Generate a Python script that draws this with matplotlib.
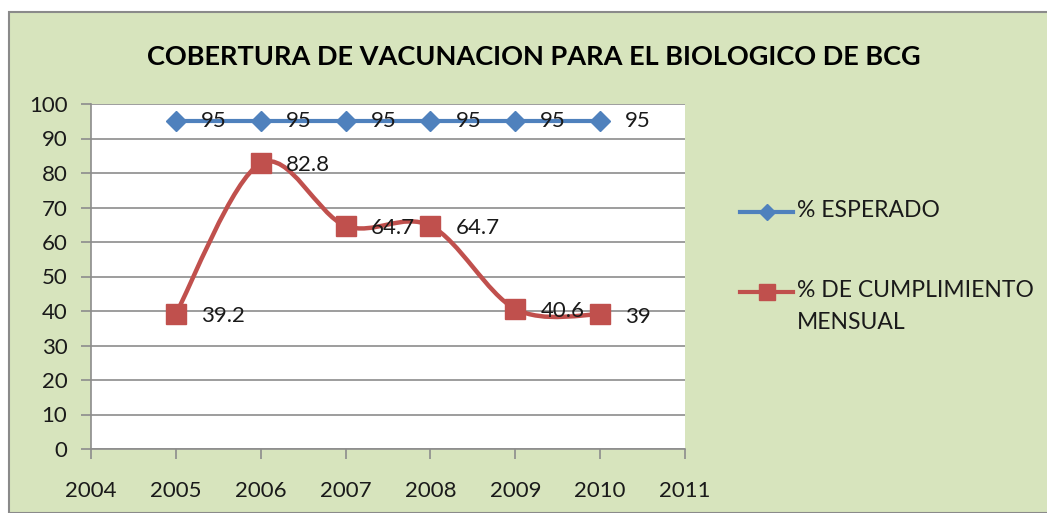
import matplotlib
matplotlib.use("Agg")
import matplotlib.pyplot as plt
from matplotlib.path import Path
from matplotlib.patches import PathPatch, Rectangle
from matplotlib.lines import Line2D
import numpy as np

plt.rcParams['font.family'] = ['Lato', 'DejaVu Sans']

title = "COBERTURA DE VACUNACION PARA EL BIOLOGICO DE BCG"
years = [2005, 2006, 2007, 2008, 2009, 2010]
esperado = [95, 95, 95, 95, 95, 95]
cumplimiento = [39.2, 82.8, 64.7, 64.7, 40.6, 39]
series_names = ["% ESPERADO", "% DE CUMPLIMIENTO\nMENSUAL"]
label_texts_esp = ["95", "95", "95", "95", "95", "95"]
label_texts_cum = ["39.2", "82.8", "64.7", "64.7", "40.6", "39"]
xticks = [2004, 2005, 2006, 2007, 2008, 2009, 2010, 2011]
yticks = [0, 10, 20, 30, 40, 50, 60, 70, 80, 90, 100]

BG = "#D7E4BD"
BLUE = "#4F81BD"
RED = "#C0504D"
GRID = "#8C8C8C"

fig = plt.figure(figsize=(10.47, 5.13), dpi=100)
fig.patch.set_facecolor("white")
W, H = 1047, 513
# chart area with gray border
fig.add_artist(Rectangle((9 / W, 0), 1.2, 1 - 12 / H, transform=fig.transFigure,
                         facecolor=BG, edgecolor="#8A8A8A", linewidth=1.5, zorder=0))

ax = fig.add_axes([91 / W, 1 - 449 / H, (685 - 91) / W, (449 - 104) / H])
ax.set_facecolor("white")
ax.set_xlim(2004, 2011)
ax.set_ylim(0, 100)
ax.set_xticks(xticks)
ax.set_yticks(yticks)
ax.grid(axis='y', color=GRID, linewidth=1.2)
ax.set_axisbelow(True)
for s in ['top', 'right']:
    ax.spines[s].set_visible(False)
for s in ['left', 'bottom']:
    ax.spines[s].set_color(GRID)
    ax.spines[s].set_linewidth(1.2)
ax.tick_params(axis='y', direction='out', length=7, width=1.2, color=GRID,
               pad=10, labelsize=16, labelcolor="#1a1a1a")
ax.tick_params(axis='x', direction='out', length=7, width=1.2, color=GRID,
               pad=16, labelsize=16, labelcolor="#1a1a1a")

# Expected line
ax.plot(years, esperado, color=BLUE, linewidth=3, marker='D', markersize=10,
        zorder=3, clip_on=False)

# Smoothed line (Excel-like Catmull-Rom Bezier)
pts = np.column_stack([years, cumplimiento]).astype(float)
n = len(pts)
verts = [tuple(pts[0])]
codes = [Path.MOVETO]
for i in range(n - 1):
    p0 = pts[i - 1] if i > 0 else pts[i]
    p1 = pts[i]
    p2 = pts[i + 1]
    p3 = pts[i + 2] if i + 2 < n else pts[i + 1]
    c1 = p1 + (p2 - p0) / 6.0
    c2 = p2 - (p3 - p1) / 6.0
    verts += [tuple(c1), tuple(c2), tuple(p2)]
    codes += [Path.CURVE4] * 3
ax.add_patch(PathPatch(Path(verts, codes), facecolor='none', edgecolor=RED,
                       linewidth=3.2, zorder=3, capstyle='round'))
ax.plot(years, cumplimiento, linestyle='none', marker='s', markersize=14,
        color=RED, zorder=4, clip_on=False)

for x, y, t in zip(years, esperado, label_texts_esp):
    ax.annotate(t, (x, y), xytext=(18, 0), textcoords='offset points',
                ha='left', va='center', fontsize=16, color="#1a1a1a", zorder=5)
for x, y, t in zip(years, cumplimiento, label_texts_cum):
    ax.annotate(t, (x, y), xytext=(18, -1.5), textcoords='offset points',
                ha='left', va='center', fontsize=16, color="#1a1a1a", zorder=5)

fig.text(534 / W, 1 - 57 / H, title, ha='center', va='center', fontsize=19.5,
         fontweight='bold', color="black")

# Legend (manual)
def legend_entry(y, color, marker, ms, label):
    fig.add_artist(Line2D([740 / W, 793 / W], [1 - y / H, 1 - y / H],
                          transform=fig.transFigure, color=color, linewidth=3))
    fig.add_artist(Line2D([766.5 / W], [1 - y / H], transform=fig.transFigure,
                          color=color, marker=marker, markersize=ms, linestyle='none'))
    fig.text(797 / W, 1 - (y - 12) / H, label, ha='left', va='top', fontsize=16.5,
             color="#1a1a1a", linespacing=1.65)

legend_entry(212, BLUE, 'D', 8, series_names[0])
legend_entry(292, RED, 's', 12, series_names[1])

fig.savefig("out.png", dpi=100, facecolor=fig.get_facecolor())
